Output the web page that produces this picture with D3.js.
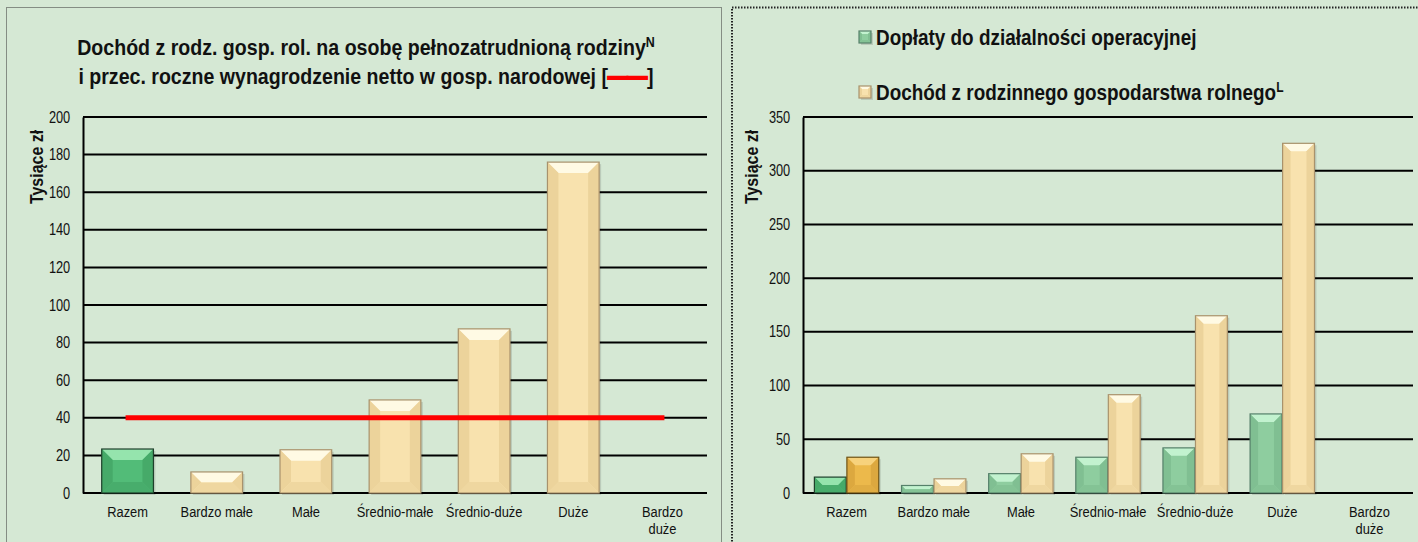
<!DOCTYPE html>
<html>
<head>
<meta charset="utf-8">
<script src="https://cdn.jsdelivr.net/npm/d3@7"></script>
<style>
  html, body { margin: 0; padding: 0; background: #d5e8d4; }
  svg { display: block; }
  text { font-family: "Liberation Sans", Arial, sans-serif; fill: #111; }
</style>
</head>
<body>
<svg id="chart" width="1418" height="542"></svg>
<script>
// dane
const categories = ['Razem', 'Bardzo małe', 'Małe', 'Średnio-małe', 'Średnio-duże', 'Duże', 'Bardzo duże'];
const incomePerWorker = [23.4, 11.2, 23, 49.5, 87.3, 176, null];   // tys. zł
const netWage = 40;                                                 // linia czerwona
const subsidies = [14.8, 7, 18, 33.3, 42, 73.6, null];
const familyIncome = [33.3, 13.2, 36.5, 91.5, 165, 325.5, null];
const leftTicks = [0, 20, 40, 60, 80, 100, 120, 140, 160, 180, 200];
const rightTicks = [0, 50, 100, 150, 200, 250, 300, 350];

const svg = d3.select('#chart');

// tekst "waski" - brak Arial Narrow, wiec sciskamy w poziomie
function narrow(g, x, y, size, sx, opts = {}) {
    const rot = opts.rotate ? ` rotate(${opts.rotate})` : '';
    const holder = g.append('g').attr('transform', `translate(${x},${y})${rot} scale(${sx},1)`);
    return holder.append('text')
        .attr('x', 0).attr('y', 0)
        .attr('font-size', size)
        .attr('font-weight', opts.bold ? 'bold' : null)
        .attr('text-anchor', opts.anchor || 'start');
}

// ramki paneli (kropkowane)
svg.append('rect').attr('x', 6.5).attr('y', 7.5).attr('width', 715).attr('height', 560)
    .attr('fill', 'none').attr('stroke', '#333').attr('stroke-width', 1).attr('stroke-dasharray', '1,1');
svg.append('rect').attr('x', 732).attr('y', 7.5).attr('width', 700).attr('height', 560)
    .attr('fill', 'none').attr('stroke', '#222').attr('stroke-width', 2).attr('stroke-dasharray', '1.5,1.5');

// slupek z efektem fazy
const palettes = {
    green:  { base: '#52bc78', top: '#95e4ad', side: '#46aa69', bottom: '#48ad6c', stroke: '#1f3f2b' },
    light:  { base: '#8ecd9f', top: '#c2f2cf', side: '#80bf92', bottom: '#84c395', stroke: '#56806a' },
    tan:    { base: '#f8e2ae', top: '#fffae4', side: '#ecd39b', bottom: '#efd7a0', stroke: '#a8926c' },
    orange: { base: '#ecb94b', top: '#f7d27c', side: '#dca83f', bottom: '#e0ad43', stroke: '#6e5418' }
};

function bevelBar(g, x, y, w, h, pal) {
    if (h <= 0) return;
    const b = Math.min(11, w / 4, h / 2);
    const gg = g.append('g');
    // cien
    gg.append('rect').attr('x', x + 2).attr('y', y + 2).attr('width', w).attr('height', h)
        .attr('fill', '#000').attr('opacity', 0.12);
    gg.append('rect').attr('x', x).attr('y', y).attr('width', w).attr('height', h).attr('fill', pal.base);
    const poly = pts => gg.append('polygon').attr('points', pts.map(p => p.join(',')).join(' '));
    poly([[x, y], [x + w, y], [x + w - b, y + b], [x + b, y + b]]).attr('fill', pal.top);
    poly([[x, y], [x + b, y + b], [x + b, y + h - b], [x, y + h]]).attr('fill', pal.side);
    poly([[x + w, y], [x + w - b, y + b], [x + w - b, y + h - b], [x + w, y + h]]).attr('fill', pal.side);
    poly([[x, y + h], [x + b, y + h - b], [x + w - b, y + h - b], [x + w, y + h]]).attr('fill', pal.bottom);
    gg.append('rect').attr('x', x).attr('y', y).attr('width', w).attr('height', h)
        .attr('fill', 'none').attr('stroke', pal.stroke).attr('stroke-width', 1.2);
}

function drawFrame(g, x, y, ticks, yTitle, titleX) {
    // linie siatki
    g.append('g').selectAll('line').data(ticks).enter().append('line')
        .attr('x1', x.range()[0]).attr('x2', x.range()[1])
        .attr('y1', d => y(d)).attr('y2', d => y(d))
        .attr('stroke', '#000').attr('stroke-width', 2);
    // os Y
    const ax = g.append('g').attr('transform', `translate(${x.range()[0]},0)`)
        .call(d3.axisLeft(y).tickValues(ticks).tickSize(0).tickPadding(16));
    ax.select('.domain').attr('stroke', '#000').attr('stroke-width', 2);
    ax.selectAll('text').attr('font-size', 16).attr('fill', '#111')
        .attr('transform', 'scale(0.8,1)');
    // etykiety kategorii
    categories.forEach(d => {
        const cx = x(d) + x.bandwidth() / 2;
        const t = narrow(g, cx, 517, 15, 0.86, { anchor: 'middle' });
        if (d === 'Bardzo duże') {
            t.append('tspan').attr('x', 0).attr('dy', 0).text('Bardzo');
            t.append('tspan').attr('x', 0).attr('dy', 17).text('duże');
        } else {
            t.text(d);
        }
    });
    // tytul osi
    narrow(g, titleX, 167, 19, 0.84, { anchor: 'middle', bold: true, rotate: -90 }).text(yTitle);
}

// ---------- lewy wykres ----------
const left = svg.append('g');
const xL = d3.scaleBand().domain(categories).range([83, 707]).paddingInner(0.42).paddingOuter(0.21);
const xLc = d3.scaleBand().domain(categories).range([83, 707]);
const yL = d3.scaleLinear().domain([0, 200]).range([493, 117]);

drawFrame(left, xLc, yL, leftTicks, 'Tysiące zł', 43);

incomePerWorker.forEach((v, i) => {
    if (v == null) return;
    const c = categories[i];
    bevelBar(left, xL(c), yL(v), xL.bandwidth(), yL(0) - yL(v), i === 0 ? palettes.green : palettes.tan);
});

left.append('line')
    .attr('x1', xLc(categories[0]) + xLc.bandwidth() / 2 - 2)
    .attr('x2', xLc(categories[categories.length - 1]) + xLc.bandwidth() / 2 + 2)
    .attr('y1', yL(netWage)).attr('y2', yL(netWage))
    .attr('stroke', '#ff0000').attr('stroke-width', 5);

const t1 = narrow(left, 366, 55, 22, 0.89, { anchor: 'middle', bold: true });
t1.append('tspan').text('Dochód z rodz. gosp. rol. na osobę pełnozatrudnioną rodziny');
t1.append('tspan').attr('font-size', 14).attr('dy', -8).text('N');
const t2 = narrow(left, 366, 84, 22, 0.89, { anchor: 'middle', bold: true });
t2.append('tspan').text('i przec. roczne wynagrodzenie netto w gosp. narodowej [');
t2.append('tspan').attr('fill', '#ff0000').attr('stroke', '#ff0000').attr('stroke-width', 2.2)
    .text('\u2014\u2014');
t2.append('tspan').text(']');

// ---------- prawy wykres ----------
const right = svg.append('g');
const xR = d3.scaleBand().domain(categories).range([803, 1413]);
const xRs = d3.scaleBand().domain(['sub', 'inc']).range([0, xR.bandwidth()]).paddingOuter(0.35).paddingInner(0.02);
const yR = d3.scaleLinear().domain([0, 350]).range([493, 117]);

drawFrame(right, xR, yR, rightTicks, 'Tysiące zł', 758);

categories.forEach((c, i) => {
    if (subsidies[i] != null) {
        bevelBar(right, xR(c) + xRs('sub'), yR(subsidies[i]), xRs.bandwidth(), yR(0) - yR(subsidies[i]),
            i === 0 ? palettes.green : palettes.light);
    }
    if (familyIncome[i] != null) {
        bevelBar(right, xR(c) + xRs('inc'), yR(familyIncome[i]), xRs.bandwidth(), yR(0) - yR(familyIncome[i]),
            i === 0 ? palettes.orange : palettes.tan);
    }
});

// legenda
const legendItems = [
    { label: 'Dopłaty do działalności operacyjnej', sup: '', pal: palettes.light, y: 37 },
    { label: 'Dochód z rodzinnego gospodarstwa rolnego', sup: 'L', pal: palettes.tan, y: 92 }
];
legendItems.forEach(d => {
    bevelBar(right, 859, d.y - 6, 12, 12, d.pal);
    const t = narrow(right, 876, d.y + 8, 22, 0.86, { bold: true });
    t.append('tspan').text(d.label);
    if (d.sup) t.append('tspan').attr('font-size', 14).attr('dy', -8).text(d.sup);
});
</script>
</body>
</html>
